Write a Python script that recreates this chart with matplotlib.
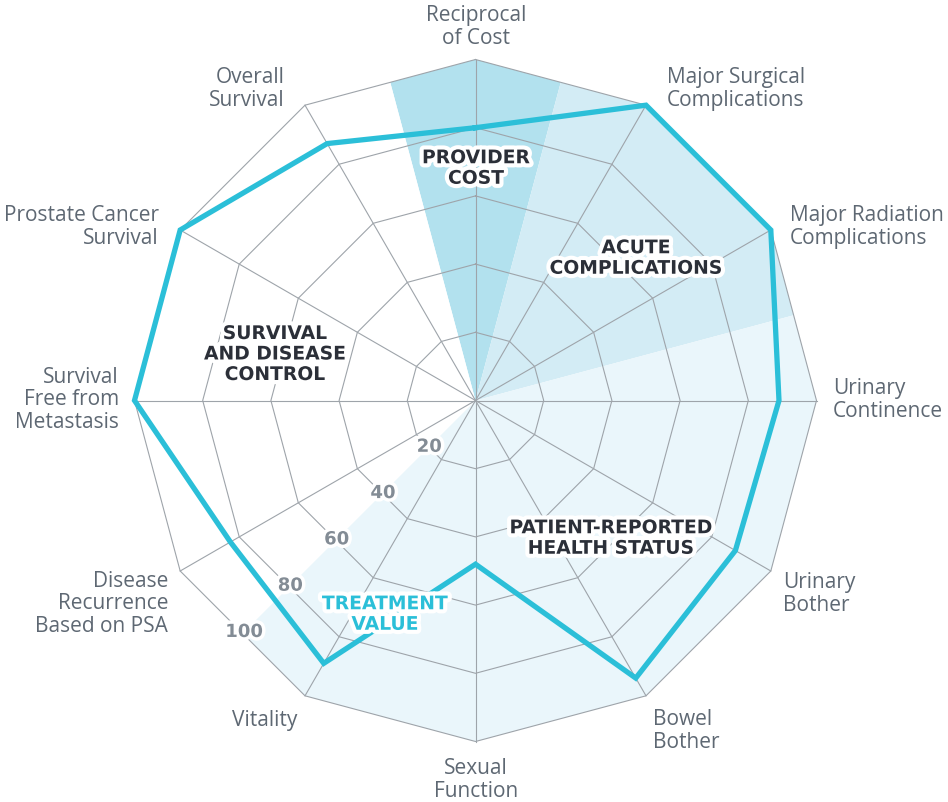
import numpy as np
import matplotlib.pyplot as plt
import matplotlib.patheffects as pe
from matplotlib.patches import Polygon

categories = ["Reciprocal\nof Cost", "Major Surgical\nComplications", "Major Radiation\nComplications",
              "Urinary\nContinence", "Urinary\nBother", "Bowel\nBother", "Sexual\nFunction",
              "Vitality", "Disease\nRecurrence\nBased on PSA", "Survival\nFree from\nMetastasis",
              "Prostate Cancer\nSurvival", "Overall\nSurvival"]
values = [80, 100, 100, 89, 88, 94, 48, 89, 83, 100, 100, 87]
ring_ticks = [20, 40, 60, 80, 100]

groups = ["PROVIDER\nCOST", "ACUTE\nCOMPLICATIONS", "SURVIVAL\nAND DISEASE\nCONTROL",
          "PATIENT-REPORTED\nHEALTH STATUS"]
# sector spans (deg, counter-clockwise from east)
group_spans = [(75, 105), (15, 75), (105, 225), (-135, 15)]
group_colors = ["#b2e1ee", "#d3ecf5", "#ffffff", "#eaf6fb"]

GRID = "#9ea4aa"
TEXT = "#5e6873"
DARK = "#2b2f38"
CYAN = "#2bbfd8"

n = len(categories)
angles = np.deg2rad(90 - 30 * np.arange(n))


def xy(r, a):
    return r * np.cos(a), r * np.sin(a)


def sector(a0, a1):
    # polygon of the outer ring clipped to the sector a0..a1 (deg)
    r_mid = 100 * np.cos(np.deg2rad(15))
    pts = [(0, 0), xy(r_mid, np.deg2rad(a0))]
    for v in range(-180, 361, 30):
        if a0 < v < a1:
            pts.append(xy(100, np.deg2rad(v)))
    pts.append(xy(r_mid, np.deg2rad(a1)))
    return pts


fig = plt.figure(figsize=(9.48, 8.03), dpi=100)
ax = fig.add_axes([0, 0, 1, 1])
s = 3.41
cx, cy = 475.5, 401.5
ax.set_xlim(-cx / s, (948 - cx) / s)
ax.set_ylim(-(803 - cy) / s, cy / s)
ax.axis("off")

for (a0, a1), col in zip(group_spans, group_colors):
    ax.add_patch(Polygon(sector(a0, a1), closed=True, facecolor=col, edgecolor="none", zorder=1))

# grid
for r in ring_ticks:
    gx, gy = xy(r, np.append(angles, angles[0]))
    ax.plot(gx, gy, color=GRID, lw=0.8, zorder=2)
for a in angles:
    ax.plot([0, 100 * np.cos(a)], [0, 100 * np.sin(a)], color=GRID, lw=0.8, zorder=2)

# data line
vx, vy = xy(np.append(values, values[0]), np.append(angles, angles[0]))
ax.plot(vx, vy, color=CYAN, lw=3.8, solid_joinstyle="miter", zorder=4)

# ring labels
white = [pe.withStroke(linewidth=5, foreground="white")]
for r in ring_ticks:
    tx, ty = xy(r * 0.96, np.deg2rad(-135))
    ax.text(tx, ty, str(r), fontsize=13, fontweight="bold", color="#838c95", family="DejaVu Sans",
            ha="center", va="center", path_effects=white, zorder=5)

# category labels (anchor offsets in px)
label_pos = [
    ((476, 27), "center"), ((667, 89), "left"), ((790, 227), "left"), ((833, 400), "left"),
    ((783, 594), "left"), ((653, 731), "left"), ((476, 780), "center"), ((297, 721), "right"),
    ((168, 604), "right"), ((119, 400), "right"), ((159, 227), "right"), ((285, 89), "right"),
]
for lab, ((px, py), ha) in zip(categories, label_pos):
    ax.text((px - cx) / s, (cy - py) / s, lab, fontsize=15, color=TEXT, family="Open Sans",
            ha=ha, va="center", multialignment=ha, linespacing=1.1, zorder=5)

group_pos = [(476, 169), (636, 259), (275, 355), (611, 539)]
for lab, (px, py) in zip(groups, group_pos):
    ax.text((px - cx) / s, (cy - py) / s, lab, fontsize=13.5, fontweight="bold", color=DARK,
            family="DejaVu Sans", ha="center", va="center", linespacing=1.1,
            path_effects=[pe.withStroke(linewidth=6, foreground="white")], zorder=6)

ax.text((385 - cx) / s, (cy - 615) / s, "TREATMENT\nVALUE", fontsize=13.5, fontweight="bold",
        color=CYAN, family="DejaVu Sans", ha="center", va="center", linespacing=1.1,
        path_effects=[pe.withStroke(linewidth=6, foreground="white")], zorder=6)

fig.savefig("out.png", dpi=100)
